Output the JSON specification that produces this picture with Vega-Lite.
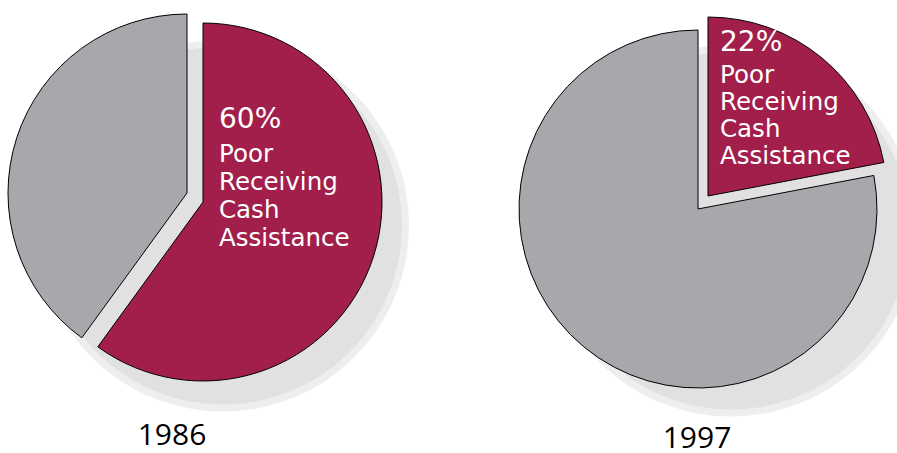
{
  "$schema": "https://vega.github.io/schema/vega-lite/v6.json",
  "padding": 0,
  "background": "white",
  "spacing": 118,
  "bounds": "flush",
  "config": {"view": {"stroke": null}},
  "data": {"values": [
    {"year": "1986", "group": "Poor Receiving Cash Assistance", "share": 0.60},
    {"year": "1986", "group": "Other Poor", "share": 0.40},
    {"year": "1997", "group": "Poor Receiving Cash Assistance", "share": 0.22},
    {"year": "1997", "group": "Other Poor", "share": 0.78}
  ]},
  "hconcat": [
    {
      "width": 390, "height": 395,
      "title": {"text": "1986", "orient": "bottom", "font": "Open Sans", "fontSize": 30, "fontWeight": "normal", "color": "black", "baseline": "alphabetic", "offset": 33, "dx": -23},
      "transform": [
        {"filter": "datum.year == '1986'"},
        {"stack": "share", "groupby": ["year"], "sort": [{"field": "group", "order": "descending"}], "as": ["s0", "s1"]}
      ],
      "layer": [
        {"transform": [{"filter": "datum.group == 'Other Poor'"}],
         "mark": {"type": "arc", "theta": 0, "theta2": 6.2832, "radius": 186, "fill": "#eeeeee", "xOffset": 28, "yOffset": 28}, "encoding": {}},
        {"transform": [{"filter": "datum.group == 'Other Poor'"}],
         "mark": {"type": "arc", "theta": 0, "theta2": 6.2832, "radius": 179, "fill": "#e1e1e1", "xOffset": 28, "yOffset": 28}, "encoding": {}},
        {"transform": [{"filter": "datum.group == 'Other Poor'"}],
         "mark": {"type": "arc", "radius": 179, "stroke": "black", "strokeWidth": 1, "xOffset": -8, "yOffset": -4.5},
         "encoding": {
           "theta": {"field": "s0", "type": "quantitative", "scale": {"domain": [0, 1]}},
           "theta2": {"field": "s1"},
           "color": {"field": "group", "type": "nominal", "scale": {"domain": ["Poor Receiving Cash Assistance", "Other Poor"], "range": ["#a21f4c", "#a7a8ab"]}, "legend": null}
         }},
        {"transform": [{"filter": "datum.group == 'Poor Receiving Cash Assistance'"}],
         "mark": {"type": "arc", "radius": 179, "stroke": "black", "strokeWidth": 1, "xOffset": 8, "yOffset": 4.5},
         "encoding": {
           "theta": {"field": "s0", "type": "quantitative", "scale": {"domain": [0, 1]}},
           "theta2": {"field": "s1"},
           "color": {"field": "group", "type": "nominal", "scale": {"domain": ["Poor Receiving Cash Assistance", "Other Poor"], "range": ["#a21f4c", "#a7a8ab"]}, "legend": null}
         }},
        {"transform": [{"filter": "datum.group == 'Poor Receiving Cash Assistance'"}],
         "mark": {"type": "text", "align": "left", "baseline": "alphabetic", "dx": 24, "dy": -69.5, "font": "DejaVu Sans", "fontSize": 28, "fill": "white"},
         "encoding": {"text": {"field": "share", "type": "quantitative", "format": ".0%"}}},
        {"transform": [{"filter": "datum.group == 'Poor Receiving Cash Assistance'"}],
         "mark": {"type": "text", "align": "left", "baseline": "alphabetic", "dx": 24, "dy": -35.5, "font": "DejaVu Sans", "fontSize": 24.5, "lineBreak": " ", "lineHeight": 28, "fill": "white"},
         "encoding": {"text": {"field": "group", "type": "nominal"}}}
      ]
    },
    {
      "width": 390, "height": 405,
      "title": {"text": "1997", "orient": "bottom", "font": "Open Sans", "fontSize": 30, "fontWeight": "normal", "color": "black", "baseline": "alphabetic", "offset": 31, "dx": -6},
      "transform": [
        {"filter": "datum.year == '1997'"},
        {"stack": "share", "groupby": ["year"], "sort": [{"field": "group", "order": "descending"}], "as": ["s0", "s1"]}
      ],
      "layer": [
        {"transform": [{"filter": "datum.group == 'Other Poor'"}],
         "mark": {"type": "arc", "theta": 0, "theta2": 6.2832, "radius": 186, "fill": "#eeeeee", "xOffset": 28, "yOffset": 28}, "encoding": {}},
        {"transform": [{"filter": "datum.group == 'Other Poor'"}],
         "mark": {"type": "arc", "theta": 0, "theta2": 6.2832, "radius": 179, "fill": "#e1e1e1", "xOffset": 28, "yOffset": 28}, "encoding": {}},
        {"transform": [{"filter": "datum.group == 'Other Poor'"}],
         "mark": {"type": "arc", "radius": 179, "stroke": "black", "strokeWidth": 1, "xOffset": -5, "yOffset": 6.5},
         "encoding": {
           "theta": {"field": "s0", "type": "quantitative", "scale": {"domain": [0, 1]}},
           "theta2": {"field": "s1"},
           "color": {"field": "group", "type": "nominal", "scale": {"domain": ["Poor Receiving Cash Assistance", "Other Poor"], "range": ["#a21f4c", "#a7a8ab"]}, "legend": null}
         }},
        {"transform": [{"filter": "datum.group == 'Poor Receiving Cash Assistance'"}],
         "mark": {"type": "arc", "radius": 179, "stroke": "black", "strokeWidth": 1, "xOffset": 5, "yOffset": -6.5},
         "encoding": {
           "theta": {"field": "s0", "type": "quantitative", "scale": {"domain": [0, 1]}},
           "theta2": {"field": "s1"},
           "color": {"field": "group", "type": "nominal", "scale": {"domain": ["Poor Receiving Cash Assistance", "Other Poor"], "range": ["#a21f4c", "#a7a8ab"]}, "legend": null}
         }},
        {"transform": [{"filter": "datum.group == 'Poor Receiving Cash Assistance'"}],
         "mark": {"type": "text", "align": "left", "baseline": "alphabetic", "dx": 17, "dy": -151.5, "font": "DejaVu Sans", "fontSize": 28, "fill": "white"},
         "encoding": {"text": {"field": "share", "type": "quantitative", "format": ".0%"}}},
        {"transform": [{"filter": "datum.group == 'Poor Receiving Cash Assistance'"}],
         "mark": {"type": "text", "align": "left", "baseline": "alphabetic", "dx": 17, "dy": -119.5, "font": "DejaVu Sans", "fontSize": 24.5, "lineBreak": " ", "lineHeight": 27, "fill": "white"},
         "encoding": {"text": {"field": "group", "type": "nominal"}}}
      ]
    }
  ]
}
